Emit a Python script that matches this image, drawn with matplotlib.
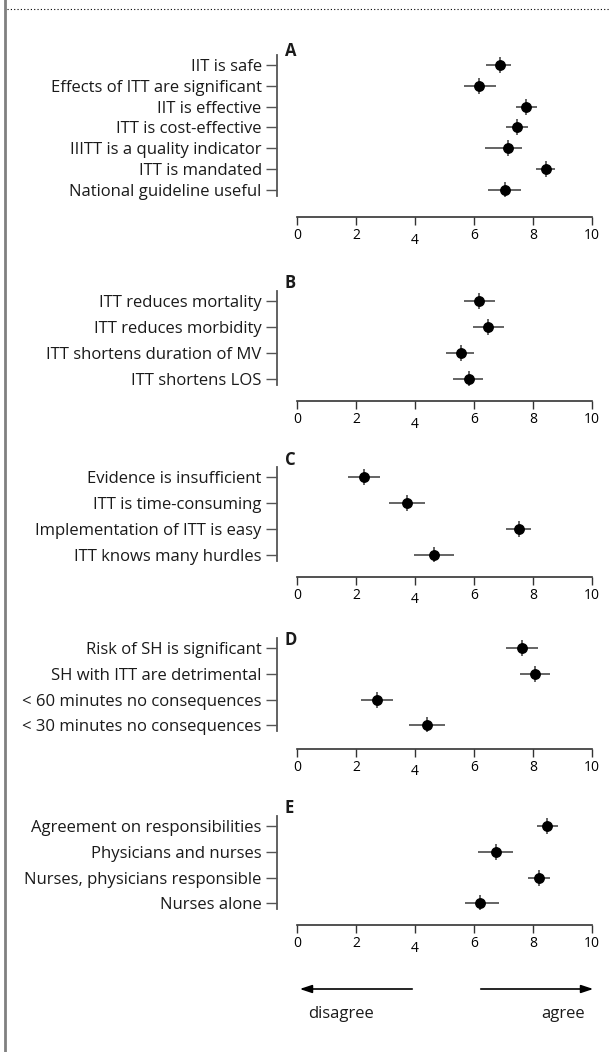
"""Attitudes towards intensive insulin therapy: mean score with 95% CI per statement."""
import matplotlib
matplotlib.use("Agg")
import matplotlib.pyplot as plt
from matplotlib.transforms import ScaledTranslation

plt.rcParams["font.family"] = ["Open Sans", "DejaVu Sans"]

# ---- data ----
A_labels = ["IIT is safe", "Effects of ITT are significant", "IIT is effective",
            "ITT is cost-effective", "IIITT is a quality indicator", "ITT is mandated",
            "National guideline useful"]
A_mean = [6.89, 6.18, 7.75, 7.45, 7.14, 8.43, 7.04]
A_low = [6.42, 5.65, 7.44, 7.08, 6.37, 8.09, 6.47]
A_high = [7.27, 6.76, 8.12, 7.84, 7.63, 8.73, 7.61]

B_labels = ["ITT reduces mortality", "ITT reduces morbidity",
            "ITT shortens duration of MV", "ITT shortens LOS"]
B_mean = [6.18, 6.48, 5.56, 5.82]
B_low = [5.65, 5.97, 5.04, 5.30]
B_high = [6.72, 7.01, 6.01, 6.30]

C_labels = ["Evidence is insufficient", "ITT is time-consuming",
            "Implementation of ITT is easy", "ITT knows many hurdles"]
C_mean = [2.26, 3.73, 7.51, 4.65]
C_low = [1.74, 3.12, 7.08, 3.97]
C_high = [2.80, 4.34, 7.94, 5.33]

D_labels = ["Risk of SH is significant", "SH with ITT are detrimental",
            "< 60 minutes no consequences", "< 30 minutes no consequences"]
D_mean = [7.62, 8.07, 2.71, 4.40]
D_low = [7.08, 7.57, 2.18, 3.80]
D_high = [8.16, 8.59, 3.24, 5.00]

E_labels = ["Agreement on responsibilities", "Physicians and nurses",
            "Nurses, physicians responsible", "Nurses alone"]
E_mean = [8.48, 6.73, 8.21, 6.19]
E_low = [8.13, 6.15, 7.82, 5.68]
E_high = [8.84, 7.32, 8.59, 6.84]

panel_names = ["A", "B", "C", "D", "E"]
x_ticks = [0, 2, 4, 6, 8, 10]

panels = [
    (A_labels, A_mean, A_low, A_high),
    (B_labels, B_mean, B_low, B_high),
    (C_labels, C_mean, C_low, C_high),
    (D_labels, D_mean, D_low, D_high),
    (E_labels, E_mean, E_low, E_high),
]

# ---- layout in pixels ----
W, H = 609, 1052
X0, X10, SPINE_X = 297, 592, 277
row_top = [65, 301.3, 477.3, 647.7, 825.7]
row_step = [20.8, 26.0, 25.8, 25.9, 25.9]
axis_offset = [15.5, 11.5, 11.5, 12.5, 11.5]
name_y = [51, 283, 460, 640, 808]

fig = plt.figure(figsize=(W / 100, H / 100), dpi=100)

# overlay for frame, panel letters and the agree/disagree arrows
ov = fig.add_axes([0, 0, 1, 1])
ov.set_xlim(0, W)
ov.set_ylim(H, 0)
ov.axis("off")

ppu = (X10 - X0) / 10.0
xmin = -(X0 - SPINE_X) / ppu
err_col = "#3a3a3a"
txt_col = "#1a1a1a"

for k, (labels, mean, low, high) in enumerate(panels):
    n = len(labels)
    step = row_step[k]
    top = row_top[k] - 10
    bottom = row_top[k] + (n - 1) * step + 6
    ax = fig.add_axes([SPINE_X / W, 1 - bottom / H, (X10 + 4 - SPINE_X) / W, (bottom - top) / H])
    ax.patch.set_visible(False)
    rows = list(range(n))
    xerr = [[m - lo for m, lo in zip(mean, low)], [hi - m for m, hi in zip(mean, high)]]
    ax.errorbar(mean, rows, xerr=xerr, fmt="none", ecolor=err_col, elinewidth=1.1, capsize=0)
    ax.plot(mean, rows, ls="none", marker="|", ms=11.5, mew=1.1, color=err_col)
    ax.plot(mean, rows, ls="none", marker="o", ms=6.8, color="black")

    ax.set_xlim(xmin, 10 + 4 / ppu)
    ax.set_ylim((n - 1) + 6 / step, -10 / step)
    ax.set_yticks(rows)
    ax.set_yticklabels(labels, fontsize=12, color=txt_col)
    ax.set_xticks(x_ticks)
    ax.set_xticklabels([str(t) for t in x_ticks], fontsize=13, color=txt_col)

    for s in ["top", "right"]:
        ax.spines[s].set_visible(False)
    ax.spines["left"].set_color("#555555")
    ax.spines["left"].set_linewidth(1.3)
    ax.spines["bottom"].set_position(("outward", axis_offset[k]))
    ax.spines["bottom"].set_bounds(0, 10)
    ax.spines["bottom"].set_color("#333333")
    ax.spines["bottom"].set_linewidth(1.2)
    ax.tick_params(axis="y", length=8, width=1, color="#555555", pad=3)
    ax.tick_params(axis="x", length=6, width=1, color="#333333", pad=2)

    # old-style figure look: the 4 sits a bit lower
    for lbl in ax.get_xticklabels():
        if lbl.get_text() == "4":
            lbl.set_transform(lbl.get_transform() + ScaledTranslation(0, -3 / 72, fig.dpi_scale_trans))

ov.plot([5, 5], [0, H], color="#808080", lw=2)
ov.plot([7, W], [8.5, 8.5], color="black", lw=0.8, ls=(0, (1, 2)))

for k, name in enumerate(panel_names):
    ov.text(285, name_y[k], name, fontsize=12, fontweight="bold", color=txt_col,
            ha="left", va="center")

ov.annotate("", xy=(297, 989), xytext=(415, 989),
            arrowprops=dict(arrowstyle="-|>,head_length=0.6,head_width=0.2",
                            color="black", lw=1.2, mutation_scale=12))
ov.annotate("", xy=(596, 989), xytext=(478, 989),
            arrowprops=dict(arrowstyle="-|>,head_length=0.6,head_width=0.2",
                            color="black", lw=1.2, mutation_scale=12))
ov.text(308, 1014, "disagree", fontsize=12, color=txt_col, ha="left", va="center")
ov.text(585, 1014, "agree", fontsize=12, color=txt_col, ha="right", va="center")

fig.savefig("out.png", dpi=100)
